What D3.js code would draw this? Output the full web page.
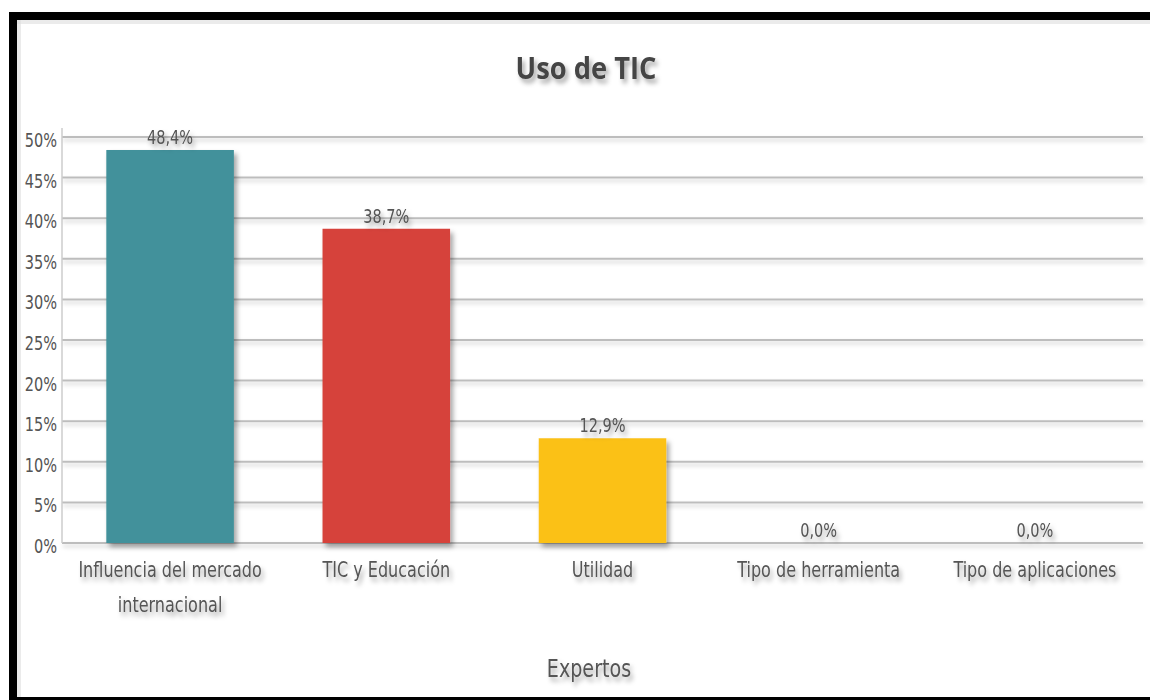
<!DOCTYPE html>
<html>
<head>
<meta charset="utf-8">
<title>Uso de TIC</title>
<style>
    body { margin: 0; background: #fff; }
    .grid line { stroke: #bdbdbd; stroke-width: 2px; }
    .tick text { font-family: "DejaVu Sans Condensed", "Liberation Sans Narrow", sans-serif; fill: #555; }
    .lbl { font-family: "DejaVu Sans Condensed", "Liberation Sans Narrow", sans-serif; fill: #555; }
</style>
</head>
<body>
<svg id="container" width="1150" height="700"></svg>
<script src="https://cdn.jsdelivr.net/npm/d3@7"></script>
<script>
    let categories = ["Influencia del mercado|internacional", "TIC y Educación", "Utilidad", "Tipo de herramienta", "Tipo de aplicaciones"]
    let values = [48.4, 38.7, 12.9, 0, 0]
    let colors = ["#43919b", "#d6433b", "#fbc118", "#999", "#999"]
    let yTicks = [0, 5, 10, 15, 20, 25, 30, 35, 40, 45, 50]

    let svg = d3.select("#container")

    // shadow filter
    let defs = svg.append("defs")
    let f = defs.append("filter").attr("id", "shadow")
        .attr("x", "-20%").attr("y", "-20%").attr("width", "150%").attr("height", "150%")
    f.append("feDropShadow").attr("dx", 3).attr("dy", 4).attr("stdDeviation", 2.5)
        .attr("flood-color", "#000").attr("flood-opacity", 0.35)
    let fl = defs.append("filter").attr("id", "lshadow")
        .attr("x", "-5%").attr("y", "-300%").attr("width", "110%").attr("height", "700%")
    fl.append("feDropShadow").attr("dx", 1).attr("dy", 3).attr("stdDeviation", 2)
        .attr("flood-color", "#000").attr("flood-opacity", 0.2)

    // squeeze text horizontally around its anchor x
    function narrow(sel, k) {
        sel.attr("transform", function () {
            let cx = +d3.select(this).attr("x")
            return `translate(${cx},0) scale(${k},1) translate(${-cx},0)`
        })
    }

    // frame
    svg.append("rect").attr("x", 9).attr("y", 12).attr("width", 1150).attr("height", 8).attr("fill", "#000")
    svg.append("rect").attr("x", 9).attr("y", 12).attr("width", 8).attr("height", 700).attr("fill", "#000")
    svg.append("rect").attr("x", 9).attr("y", 697).attr("width", 1150).attr("height", 3).attr("fill", "#000")
    svg.append("rect").attr("x", 17).attr("y", 20).attr("width", 1140).attr("height", 4).attr("fill", "#ddd").attr("opacity", 0.6)
    svg.append("rect").attr("x", 17).attr("y", 20).attr("width", 4).attr("height", 677).attr("fill", "#ddd").attr("opacity", 0.6)

    let plotLeft = 62, plotRight = 1143, plotTop = 137, plotBottom = 543

    let x = d3.scaleBand().domain(categories).range([plotLeft, plotRight]).paddingInner(0.41).paddingOuter(0.205)
    let y = d3.scaleLinear().domain([0, 50]).range([plotBottom, plotTop])

    // gridlines
    svg.append("g").attr("class", "grid").attr("filter", "url(#lshadow)")
        .selectAll("line").data(yTicks).join("line")
        .attr("x1", plotLeft).attr("x2", plotRight)
        .attr("y1", d => y(d)).attr("y2", d => y(d))

    // y axis line
    svg.append("line").attr("x1", plotLeft).attr("x2", plotLeft).attr("y1", plotTop - 9).attr("y2", plotBottom)
        .attr("stroke", "#ccc").attr("stroke-width", 1.5)

    let yAxis = svg.append("g").attr("transform", `translate(${plotLeft},0)`)
        .call(d3.axisLeft(y).tickValues(yTicks).tickSize(0).tickPadding(5).tickFormat(d => d + "%"))
    yAxis.select(".domain").remove()
    yAxis.selectAll("text").attr("font-size", 19).attr("dy", "0.5em")
        .attr("transform", "translate(-5,0) scale(0.85,1) translate(5,0)")

    // bars
    svg.append("g").selectAll("rect").data(values).join("rect")
        .attr("x", (d, i) => x(categories[i]))
        .attr("width", x.bandwidth())
        .attr("y", d => y(d))
        .attr("height", d => y(0) - y(d))
        .attr("fill", (d, i) => colors[i])
        .attr("filter", "url(#shadow)")

    // value labels
    svg.append("g").selectAll("text").data(values).join("text")
        .attr("class", "lbl")
        .attr("x", (d, i) => x(categories[i]) + x.bandwidth() / 2)
        .attr("y", d => y(d) - 6)
        .attr("text-anchor", "middle")
        .attr("font-size", 19)
        .attr("filter", "url(#shadow)")
        .text(d => d.toFixed(1).replace(".", ",") + "%")
        .call(narrow, 0.85)

    // category labels
    let cl = svg.append("g").selectAll("text").data(categories).join("text")
        .attr("class", "lbl")
        .attr("x", d => x(d) + x.bandwidth() / 2)
        .attr("y", plotBottom + 34)
        .attr("text-anchor", "middle")
        .attr("font-size", 21)
        .attr("filter", "url(#shadow)")
        .call(narrow, 0.85)
    cl.selectAll("tspan").data(d => d.split("|")).join("tspan")
        .attr("x", function () { return d3.select(this.parentNode).attr("x") })
        .attr("dy", (d, i) => i === 0 ? 0 : "1.65em")
        .text(d => d)

    // title
    svg.append("text").attr("x", 586).attr("y", 79)
        .attr("text-anchor", "middle")
        .attr("font-family", "'Open Sans', sans-serif").attr("font-weight", "bold")
        .attr("font-size", 31).attr("fill", "#444")
        .attr("filter", "url(#shadow)")
        .text("Uso de TIC")
        .call(narrow, 0.88)

    // x axis title
    svg.append("text").attr("class", "lbl").attr("x", 589).attr("y", 677)
        .attr("text-anchor", "middle").attr("font-size", 25)
        .attr("filter", "url(#shadow)")
        .text("Expertos")
        .call(narrow, 0.85)
</script>
</body>
</html>
